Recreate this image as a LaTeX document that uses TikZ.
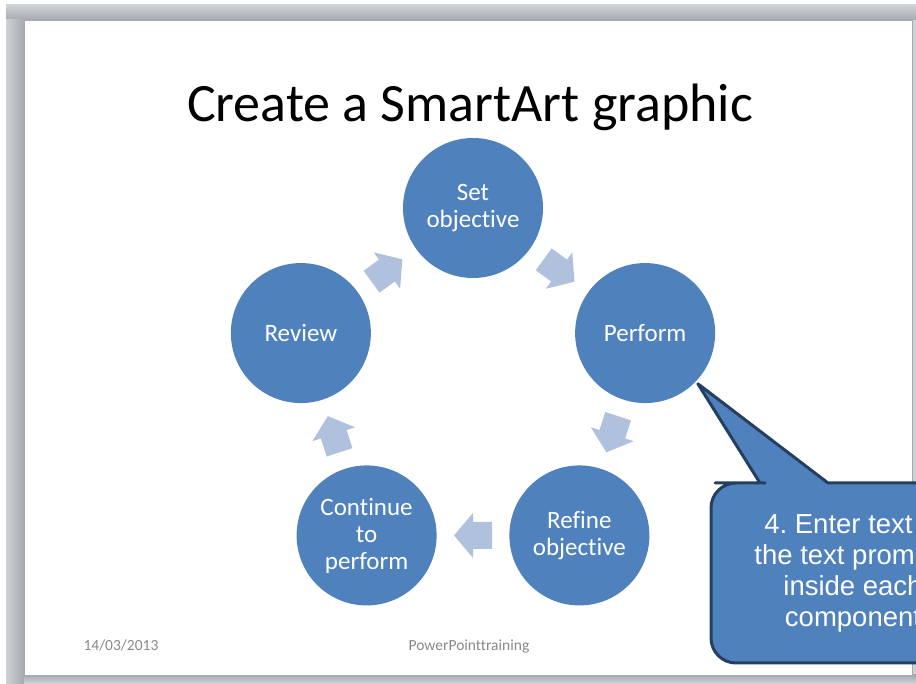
\documentclass[tikz,border=0pt]{standalone}
\usepackage{fontspec}
\setmainfont[Ligatures=CommonOff]{Carlito}
\newfontfamily\calloutfont{Liberation Sans}
\usetikzlibrary{calc}
\definecolor{slideblue}{HTML}{4F81BD}
\definecolor{arrowblue}{HTML}{B0C1DE}
\definecolor{calloutedge}{HTML}{243F60}
\definecolor{framegray}{HTML}{CED1D6}
\definecolor{shadowgray}{HTML}{A6AAB0}
\definecolor{footgray}{HTML}{898989}

\tikzset{
  stepcircle/.style={circle, fill=slideblue, minimum size=140pt, inner sep=0pt,
    align=center, text=white, font=\fontsize{25}{27}\selectfont},
  pics/cyclearrow/.style={code={
    \fill[arrowblue] (-19,-13.5) -- (0,-13.5) -- (0,-22.5) -- (19,0) -- (0,22.5) -- (0,13.5) -- (-19,13.5) -- cycle;}},
  footer/.style={font=\fontsize{15.5}{18}\selectfont, text=footgray, anchor=base}
}
\frenchspacing

\begin{document}
\begin{tikzpicture}[x=1pt,y=1pt]
\useasboundingbox (0,0) rectangle (916,683);
\clip (0,0) rectangle (916,683);

% window frame round the slide
\fill[framegray] (6,0) rectangle (916,678);
\shade[top color=framegray, bottom color=shadowgray] (6,663) rectangle (916,678);
\shade[left color=framegray, right color=shadowgray] (6,0) rectangle (24,663);
\shade[top color=shadowgray, bottom color=framegray] (24,0) rectangle (916,8);
\fill[white] (24,8) rectangle (912,663);
\draw[shadowgray, line width=0.6pt] (24,8) rectangle (912,663);

\node[font=\fontsize{54}{64}\selectfont, anchor=base] (title) at (470,561) {Create a SmartArt graphic};

% cycle of steps
\coordinate (ctr) at (473,294);
\node[stepcircle] (setobj) at ($(ctr)+(90:181)$) {Set\\objective};
\node[stepcircle] (perform) at ($(ctr)+(18:181)$) {Perform};
\node[stepcircle] (refine) at ($(ctr)+(-54:181)$) {Refine\\objective};
\node[stepcircle] (contperf) at ($(ctr)+(-126:181)$) {Continue\\to\\perform};
\node[stepcircle] (review) at ($(ctr)+(162:181)$) {Review};

\foreach \from/\to/\ang in {review/setobj/36, setobj/perform/-36, perform/refine/-108, refine/contperf/180, contperf/review/108}
  \pic[rotate=\ang] at ($(\from)!0.5!(\to)$) {cyclearrow};

% callout
\coordinate (tip) at ($(perform.-45)+(3,-1)$);
\filldraw[fill=slideblue, draw=calloutedge, line width=3pt, line join=round]
  (828,200) [rounded corners=25pt] -- (995,200) -- (995,20) -- (711,20) -- (711,200) -- (740,200)
  [sharp corners] -- (760,200) -- (tip) -- cycle;
\node[font=\calloutfont\fontsize{27.5}{31}\selectfont, text=white, align=center] (callouttext) at (853,110)
  {4. Enter text in\\the text prompts\\inside each\\component};

% footer
\node[footer, anchor=base west] (date) at (80,32) {14/03/2013};
\node[footer] (foottitle) at (469,32) {PowerPointtraining};
\end{tikzpicture}
\end{document}
